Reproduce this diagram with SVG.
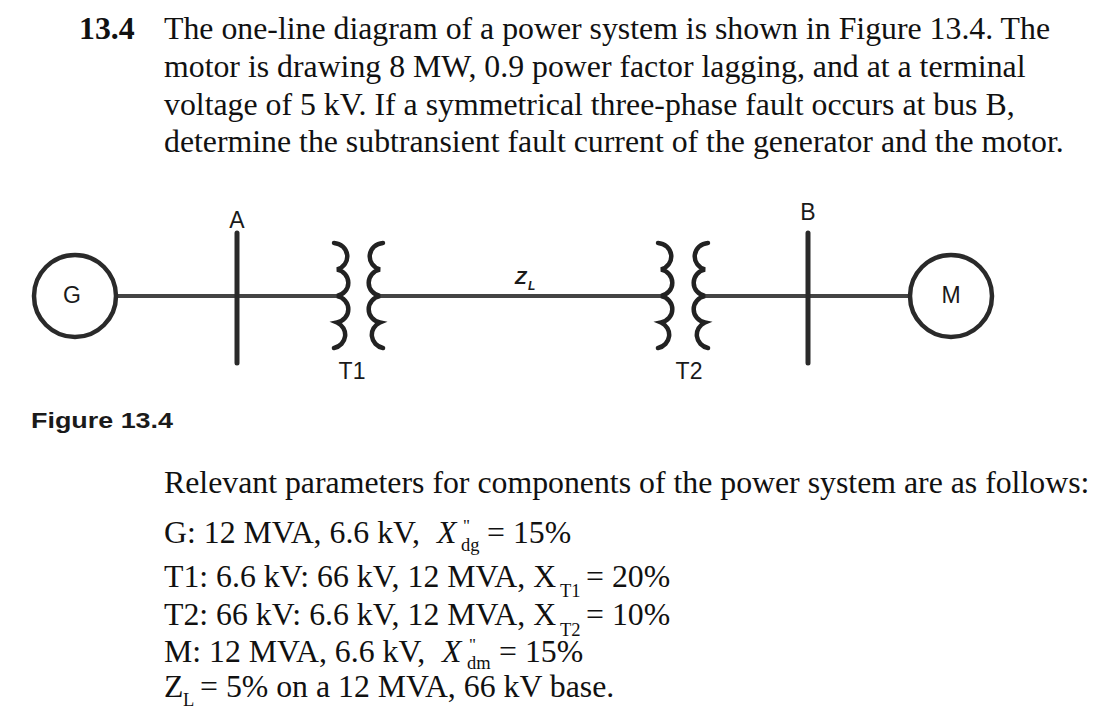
<svg xmlns="http://www.w3.org/2000/svg" width="1094" height="709" viewBox="0 0 1094 709">
<style>
.t{font-family:"Liberation Serif","Times New Roman",serif;font-size:31.8px;fill:#111}
.b{font-weight:bold}
.i{font-style:italic}
.s{font-size:18.500px}
.q{font-size:17px}
.l{font-family:"Liberation Sans",Arial,sans-serif;font-size:23px;fill:#1a1a1a}
.w{fill:none;stroke:#444;stroke-width:4}
.n{fill:#fff;stroke:#2a2a2a;stroke-width:4.5}
.c{fill:none;stroke:#222;stroke-width:4.5;stroke-linecap:round}
.bus{stroke:#2a2a2a;stroke-width:5;stroke-linecap:round}
</style>
<defs>
<path id="coilL" class="c" d="M0 0A14 13.5 0 0 1 3 26.500A14 13.500 0 0 1 3 53A14 13.500 0 0 1 3 79.500A14 13.500 0 0 1 0 105"/>
<path id="coilR" class="c" d="M0 0A14 13.500 0 0 0 -3 26.500A14 13.500 0 0 0 -3 53A14 13.500 0 0 0 -3 79.500A14 13.500 0 0 0 0 105"/>
</defs>
<rect width="1094" height="709" fill="#fff"/>
<g id="problem">
<text class="t b" x="79" y="39">13.4</text>
<text class="t" x="164" y="39">The one-line diagram of a power system is shown in Figure 13.4. The</text>
<text class="t" x="164" y="77">motor is drawing 8 MW, 0.9 power factor lagging, and at a terminal</text>
<text class="t" x="164" y="115">voltage of 5 kV. If a symmetrical three-phase fault occurs at bus B,</text>
<text class="t" x="164" y="152">determine the subtransient fault current of the generator and the motor.</text>
</g>
<g id="connectors">
<path class="w" d="M117 296H340"/>
<path class="w" d="M376 296H662"/>
<path class="w" d="M700 296H909"/>
</g>
<g id="node-G"><circle class="n" cx="75" cy="296" r="41"/><text class="l" x="72" y="303" text-anchor="middle">G</text></g>
<g id="node-A"><path class="bus" d="M237 233V363"/><text class="l" x="237" y="228" text-anchor="middle">A</text></g>
<g id="node-T1">
<use href="#coilL" x="334" y="243"/>
<use href="#coilR" x="383" y="243"/>
<text class="l" x="352" y="379" text-anchor="middle">T1</text>
</g>
<g id="node-ZL"><text class="l i b" x="515" y="284" style="font-size:19px">Z</text><text class="l i b" x="528" y="290" style="font-size:12px">L</text></g>
<g id="node-T2">
<use href="#coilL" x="658" y="243"/>
<use href="#coilR" x="708" y="243"/>
<text class="l" x="689" y="379" text-anchor="middle">T2</text>
</g>
<g id="node-B"><path class="bus" d="M808 233V363"/><text class="l" x="808" y="220" text-anchor="middle">B</text></g>
<g id="node-M"><circle class="n" cx="951" cy="296" r="41"/><text class="l" x="951" y="303" text-anchor="middle">M</text></g>
<text x="31" y="428" textLength="142" lengthAdjust="spacingAndGlyphs" style="font-family:'Liberation Sans',Arial,sans-serif;font-size:22px;font-weight:bold;fill:#1a1a1a">Figure 13.4</text>
<g id="parameters">
<text class="t" x="164" y="493">Relevant parameters for components of the power system are as follows:</text>
<text class="t" x="164" y="543">G: 12 MVA, 6.6 kV,</text>
<text class="t i" x="437" y="543">X</text><text class="t q" x="463" y="531">"</text><text class="t s" x="461" y="551">dg</text><text class="t" x="487" y="543">= 15%</text>
<text class="t" x="164" y="587">T1: 6.6 kV: 66 kV, 12 MVA, X</text><text class="t s" x="560" y="597">T1</text><text class="t" x="586" y="587">= 20%</text>
<text class="t" x="164" y="625">T2: 66 kV: 6.6 kV, 12 MVA, X</text><text class="t s" x="560" y="636">T2</text><text class="t" x="586" y="625">= 10%</text>
<text class="t" x="164" y="662">M: 12 MVA, 6.6 kV,</text>
<text class="t i" x="442" y="662">X</text><text class="t q" x="469" y="650">"</text><text class="t s" x="467" y="669">dm</text><text class="t" x="499" y="662">= 15%</text>
<text class="t" x="164" y="697">Z</text><text class="t s" x="183" y="706">L</text><text class="t" x="200" y="697">= 5% on a 12 MVA, 66 kV base.</text>
</g>
</svg>
